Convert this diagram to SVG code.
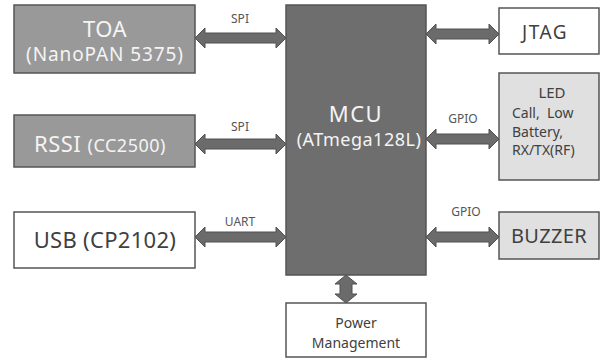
<svg xmlns="http://www.w3.org/2000/svg" width="603" height="359" viewBox="0 0 603 359">
<style>
text{font-family:"Noto Sans","Open Sans","Liberation Sans",sans-serif;}
.box{stroke:#555;stroke-width:1.5;}
.dark{fill:#999999;}
.mcu{fill:#6e6e6e;}
.light{fill:#e0e0e0;}
.white{fill:#ffffff;}
.wt{fill:#f4f4f4;}
.bt{fill:#404040;}
.lbl{fill:#555;font-size:12px;text-anchor:middle;}
.arr{fill:#6b6b6b;stroke:#505050;stroke-width:1;}
</style>
<rect width="603" height="359" fill="#ffffff"/>
<g id="connectors">
<path class="arr" d="M195,38 L205,28 L205,33 L276,33 L276,28 L286,38 L276,48 L276,43 L205,43 L205,48 Z"/>
<path class="arr" d="M195,144 L205,134 L205,139 L276,139 L276,134 L286,144 L276,154 L276,149 L205,149 L205,154 Z"/>
<path class="arr" d="M195,237 L205,227 L205,232 L276,232 L276,227 L286,237 L276,247 L276,242 L205,242 L205,247 Z"/>
<path class="arr" d="M426,34 L436,24 L436,29 L489,29 L489,24 L499,34 L489,44 L489,39 L436,39 L436,44 Z"/>
<path class="arr" d="M426,139 L436,129 L436,134 L489,134 L489,129 L499,139 L489,149 L489,144 L436,144 L436,149 Z"/>
<path class="arr" d="M426,237 L436,227 L436,232 L489,232 L489,227 L499,237 L489,247 L489,242 L436,242 L436,247 Z"/>
<path class="arr" d="M346,275 L357,284 L352,284 L352,294 L357,294 L346,303 L335,294 L340,294 L340,284 L335,284 Z"/>
<text class="lbl" x="240" y="23">SPI</text>
<text class="lbl" x="240" y="131">SPI</text>
<text class="lbl" x="240" y="226">UART</text>
<text class="lbl" x="463" y="123">GPIO</text>
<text class="lbl" x="466" y="216">GPIO</text>
</g>
<g id="toa">
<rect class="box dark" x="14" y="5" width="181" height="68"/>
<text class="wt" x="105" y="37" font-size="22" letter-spacing="0.5" text-anchor="middle">TOA</text>
<text class="wt" x="105" y="61" font-size="19" letter-spacing="0.9" text-anchor="middle">(NanoPAN 5375)</text>
</g>
<g id="rssi">
<rect class="box dark" x="14" y="115" width="181" height="52"/>
<text class="wt" x="100" y="152" text-anchor="middle"><tspan font-size="22" letter-spacing="0.5">RSSI </tspan><tspan font-size="18" letter-spacing="0.5">(CC2500)</tspan></text>
</g>
<g id="usb">
<rect class="box white" x="14" y="212" width="181" height="56"/>
<text class="bt" x="105" y="248" font-size="22" letter-spacing="0.3" text-anchor="middle">USB (CP2102)</text>
</g>
<g id="mcu">
<rect class="box mcu" x="286" y="5" width="140" height="270"/>
<text class="wt" x="356" y="122" font-size="22" letter-spacing="1.5" text-anchor="middle">MCU</text>
<text class="wt" x="359" y="146" font-size="18" letter-spacing="0.5" text-anchor="middle">(ATmega128L)</text>
</g>
<g id="jtag">
<rect class="box white" x="499" y="8" width="100" height="46"/>
<text class="bt" x="545" y="39" font-size="19" letter-spacing="1.5" text-anchor="middle">JTAG</text>
</g>
<g id="led">
<rect class="box light" x="499" y="73" width="100" height="107"/>
<text class="bt" x="552" y="98" font-size="15" text-anchor="middle">LED</text>
<text class="bt" x="512" y="118" font-size="14" style="white-space:pre">Call,  Low</text>
<text class="bt" x="512" y="137" font-size="14">Battery,</text>
<text class="bt" x="512" y="155" font-size="14">RX/TX(RF)</text>
</g>
<g id="buzzer">
<rect class="box light" x="499" y="212" width="100" height="47"/>
<text class="bt" x="549" y="243" font-size="20" letter-spacing="0.3" text-anchor="middle">BUZZER</text>
</g>
<g id="power">
<rect class="box white" x="286" y="303" width="140" height="54"/>
<text class="bt" x="356" y="328" font-size="14" text-anchor="middle">Power</text>
<text class="bt" x="356" y="348" font-size="14" text-anchor="middle">Management</text>
</g>
</svg>
